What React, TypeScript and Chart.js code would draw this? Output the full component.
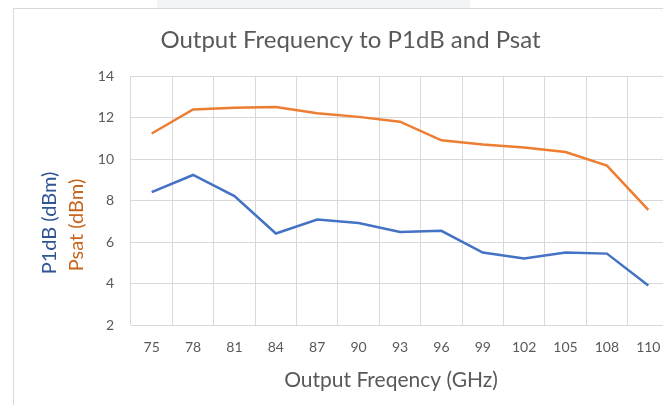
import React, { useEffect, useRef } from "react";
import { Chart, registerables } from "chart.js";

Chart.register(...registerables);

const categories = ["75", "78", "81", "84", "87", "90", "93", "96", "99", "102", "105", "108", "110"];
const p1dBValues = [8.4, 9.23, 8.21, 6.41, 7.08, 6.92, 6.48, 6.54, 5.49, 5.2, 5.49, 5.44, 3.9];
const psatValues = [11.23, 12.39, 12.47, 12.5, 12.2, 12.03, 11.8, 10.9, 10.7, 10.55, 10.34, 9.68, 7.55];
const yMin = 2;
const yMax = 14;
const yStep = 2;

const chartTitle = "Output Frequency to P1dB and Psat";
const xTitle = "Output Freqency (GHz)";
const p1dBTitle = "P1dB (dBm)";
const psatTitle = "Psat (dBm)";

const FONT = "Lato";
const TEXT = "#595959";
const GRID = "#d9d9d9";

const axisTitlePlugin = {
  id: "axisTitles",
  afterDraw(chart: any) {
    const ctx = chart.ctx as CanvasRenderingContext2D;
    ctx.save();
    ctx.textAlign = "center";
    ctx.textBaseline = "middle";
    // x title
    ctx.font = `21px ${FONT}`;
    ctx.fillStyle = TEXT;
    ctx.fillText(xTitle, 391, 380);
    ctx.font = `20px ${FONT}`;
    // P1dB
    ctx.save();
    ctx.translate(50, 223);
    ctx.rotate(-Math.PI / 2);
    ctx.fillStyle = "#2F5597";
    ctx.fillText(p1dBTitle, 0, 0);
    ctx.restore();
    // Psat
    ctx.save();
    ctx.translate(77, 225);
    ctx.rotate(-Math.PI / 2);
    ctx.fillStyle = "#C8651E";
    ctx.fillText(psatTitle, 0, 0);
    ctx.restore();
    ctx.restore();
  },
};

export default function App() {
  const ref = useRef<HTMLCanvasElement>(null);
  useEffect(() => {
    if (!ref.current) return;
    const chart = new Chart(ref.current, {
      type: "line",
      data: {
        labels: categories,
        datasets: [
          {
            label: "P1dB",
            data: p1dBValues,
            borderColor: "#4472C4",
            backgroundColor: "#4472C4",
            borderWidth: 2.5,
            pointRadius: 0,
            pointHoverRadius: 0,
            tension: 0,
          },
          {
            label: "Psat",
            data: psatValues,
            borderColor: "#ED7D31",
            backgroundColor: "#ED7D31",
            borderWidth: 2.5,
            pointRadius: 0,
            pointHoverRadius: 0,
            tension: 0,
          },
        ],
      },
      options: {
        responsive: false,
        animation: false,
        layout: { autoPadding: false, padding: { left: 32, right: 0, top: 0, bottom: 0 } },
        plugins: {
          legend: { display: false },
          tooltip: { enabled: false },
          title: {
            display: true,
            text: chartTitle,
            color: TEXT,
            font: { family: FONT, size: 24, weight: "normal" },
            padding: { top: 25.6, bottom: 21.6 },
          },
        },
        scales: {
          x: {
            offset: true,
            grid: {
              offset: true,
              color: (c: any) => (c.type === "tick" ? GRID : "rgba(0,0,0,0)"),
              drawTicks: true,
              tickLength: 14,
              tickColor: "rgba(0,0,0,0)",
            },
            border: { color: GRID },
            ticks: {
              color: TEXT,
              font: { family: FONT, size: 14 },
              padding: 0,
              maxRotation: 0,
              autoSkip: false,
            },
            afterFit: (s: any) => {
              s.height = 80;
              s.paddingLeft = 0;
              s.paddingRight = 0;
            },
          },
          y: {
            min: yMin,
            max: yMax,
            grid: { color: GRID, drawTicks: false },
            border: { display: false },
            ticks: {
              stepSize: yStep,
              color: TEXT,
              font: { family: FONT, size: 14 },
              padding: 17,
            },
            afterFit: (s: any) => {
              s.width = 99;
            },
          },
        },
      },
      plugins: [axisTitlePlugin],
    });
    return () => chart.destroy();
  }, []);

  return (
    <div
      style={{
        position: "fixed",
        left: 0,
        top: 0,
        width: 663,
        height: 405,
        overflow: "hidden",
        background: "#ffffff",
      }}
    >
      <div
        style={{
          position: "absolute",
          left: 157,
          top: 0,
          width: 313,
          height: 8,
          background: "#f3f4f6",
        }}
      />
      <div
        style={{
          position: "absolute",
          left: 13,
          top: 8,
          width: 700,
          height: 450,
          borderLeft: "1px solid #d9d9d9",
          borderTop: "1px solid #d9d9d9",
        }}
      />
      <canvas
        ref={ref}
        width={669}
        height={405}
        style={{ position: "absolute", left: 0, top: 0, display: "block", width: 669, height: 405 }}
      />
    </div>
  );
}
